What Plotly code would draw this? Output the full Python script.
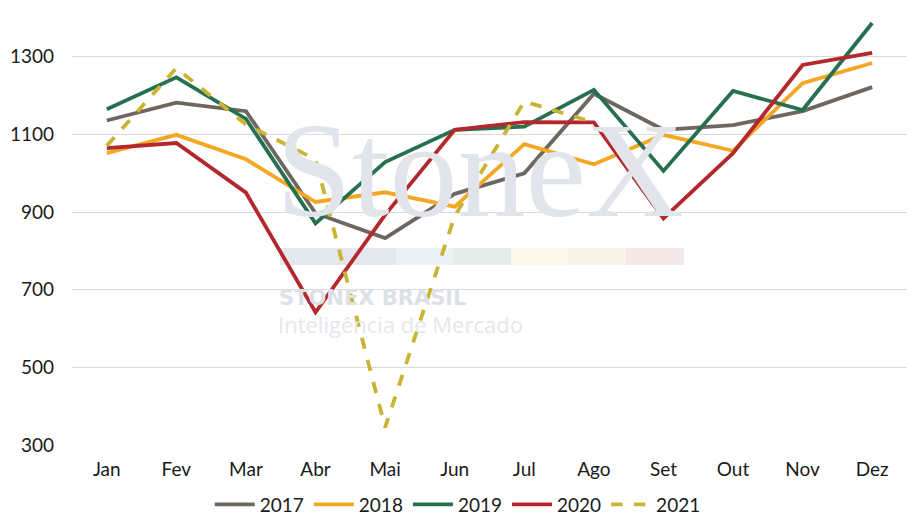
import plotly.graph_objects as go

# Meses e valores por ano
months = ["Jan", "Fev", "Mar", "Abr", "Mai", "Jun", "Jul", "Ago", "Set", "Out", "Nov", "Dez"]

v2017 = [1136, 1182, 1160, 897, 833, 947, 1000, 1205, 1112, 1124, 1160, 1222]
v2018 = [1052, 1099, 1036, 926, 951, 914, 1075, 1023, 1099, 1058, 1232, 1284]
v2019 = [1165, 1247, 1140, 871, 1029, 1112, 1120, 1215, 1006, 1212, 1163, 1387]
v2020 = [1065, 1078, 950, 642, 893, 1112, 1132, 1131, 884, 1052, 1279, 1310]
v2021 = [1071, 1271, 1126, 1036, 345, 890, 1185, 1131]

series = [
    ("2017", v2017, "#6d6760", "solid"),
    ("2018", v2018, "#f5a623", "solid"),
    ("2019", v2019, "#26704f", "solid"),
    ("2020", v2020, "#b3282d", "solid"),
    ("2021", v2021, "#c9b531", "dash"),
]

# plot area in pixels (used to place the watermark)
PL, PR, PT, PB = 72, 907, 18, 445
def px_x(p):
    return (p - PL) / (PR - PL)
def px_y(p):
    return (PB - p) / (PB - PT)

fig = go.Figure()

# --- watermark (StoneX), drawn first so the lines sit on top ---
wm_text = ["StoneX", "<b>STONEX BRASIL</b>", "Inteligência de Mercado"]
wm_x = [px_x(276), px_x(279), px_x(278)]
wm_y = [px_y(182), px_y(300), px_y(327)]
wm_size = [136, 21, 22]
wm_color = ["#e1e5eb", "#dde1e7", "#e4e7ec"]
wm_font = ["Liberation Serif", "DejaVu Sans", "Open Sans"]
for t, x, y, s, c, f in zip(wm_text, wm_x, wm_y, wm_size, wm_color, wm_font):
    fig.add_trace(go.Scatter(
        x=[x], y=[y], text=[t], mode="text", textposition="middle right",
        textfont=dict(family=f, size=s, color=c), xaxis="x2", yaxis="y2",
        showlegend=False, hoverinfo="skip",
    ))

for name, vals, color, dash in series:
    fig.add_trace(go.Scatter(
        x=months[:len(vals)], y=vals, name=name, mode="lines",
        line=dict(color=color, width=3.8, dash=dash),
    ))

bar_colors = ["#e3e7ee", "#eaf1f8", "#e4ede8", "#fbf8ea", "#fcf3e8", "#f5e6e8"]
bar_edges = [280, 396, 453, 511, 568, 626, 684]
shapes = []
for i, c in enumerate(bar_colors):
    shapes.append(dict(
        type="rect", xref="paper", yref="paper", layer="below",
        x0=px_x(bar_edges[i]), x1=px_x(bar_edges[i + 1]),
        y0=px_y(265), y1=px_y(248),
        fillcolor=c, line=dict(width=0),
    ))

fig.update_layout(
    width=921, height=529,
    margin=dict(l=PL, r=921 - PR, t=PT, b=529 - PB, autoexpand=False),
    paper_bgcolor="white", plot_bgcolor="white",
    font=dict(family="Lato", size=18, color="#1a1a1a"),
    showlegend=True,
    legend=dict(orientation="h", xref="container", x=0.497, xanchor="center",
                y=-0.095, yanchor="top",
                font=dict(size=19), itemwidth=40, tracegroupgap=0),
    shapes=shapes,
    xaxis=dict(range=[-0.5, 11.5], showgrid=False, showline=False, ticks="",
               tickfont=dict(size=19), automargin=False, ticklabelstandoff=11),
    yaxis=dict(range=[300, 1400], tick0=300, dtick=200, showgrid=True,
               gridcolor="#d9d9d9", gridwidth=1, zeroline=False, showline=False,
               tickfont=dict(size=19), automargin=False, ticklabelstandoff=17),
    xaxis2=dict(overlaying="x", range=[0, 1], visible=False),
    yaxis2=dict(overlaying="y", range=[0, 1], visible=False),
)

fig.write_html("out.html", config={"displayModeBar": False},
               post_script="document.body.style.margin='0';")
